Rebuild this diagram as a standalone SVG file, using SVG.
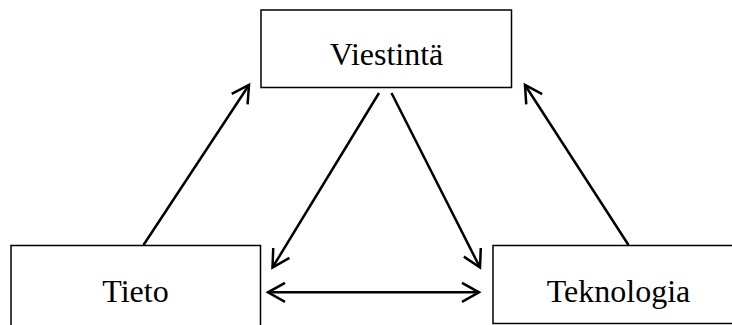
<svg xmlns="http://www.w3.org/2000/svg" width="732" height="325" viewBox="0 0 732 325">
<style>
.box{fill:#fff;stroke:#000;stroke-width:1.5}
.lbl{font-family:"Liberation Serif","Times New Roman",serif;font-size:32px;fill:#000;text-anchor:middle}
.ar{stroke:#000;stroke-width:2.5;fill:none}
</style>
<defs>
<marker id="ah" markerUnits="userSpaceOnUse" markerWidth="40" markerHeight="40" viewBox="-20 -20 40 40" refX="0" refY="0" orient="auto-start-reverse" overflow="visible">
<path d="M-17,-9.5 L0,0 L-17,9.5" fill="none" stroke="#000" stroke-width="2.5" stroke-linejoin="miter"/>
</marker>
</defs>
<rect width="732" height="325" fill="#fff"/>
<g id="viestinta">
<rect class="box" x="261" y="10" width="250.5" height="77.5"/>
<text class="lbl" x="386.5" y="65">Viestintä</text>
</g>
<g id="tieto">
<rect class="box" x="11" y="245.5" width="249.5" height="100"/>
<text class="lbl" x="135.5" y="301.5">Tieto</text>
</g>
<g id="teknologia">
<rect class="box" x="493" y="245.5" width="260" height="78"/>
<text class="lbl" x="618.5" y="301.5">Teknologia</text>
</g>
<g id="connectors">
<line class="ar" x1="143.5" y1="245" x2="249" y2="85" marker-end="url(#ah)"/>
<line class="ar" x1="628.5" y1="245" x2="525" y2="85" marker-end="url(#ah)"/>
<line class="ar" x1="379" y1="93" x2="272.5" y2="267.5" marker-end="url(#ah)"/>
<line class="ar" x1="391.5" y1="93" x2="480" y2="267.5" marker-end="url(#ah)"/>
<line class="ar" x1="268" y1="292.3" x2="479" y2="292.3" marker-start="url(#ah)" marker-end="url(#ah)"/>
</g>
</svg>
